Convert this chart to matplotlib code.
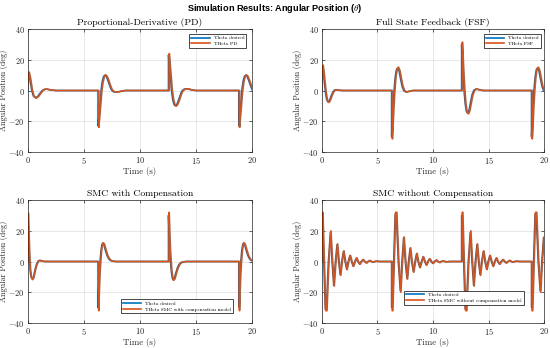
import matplotlib
matplotlib.use('Agg')
import matplotlib.pyplot as plt

plt.rcParams['font.family'] = 'serif'
plt.rcParams['font.serif'] = ['cmr10']
plt.rcParams['mathtext.fontset'] = 'cm'
plt.rcParams['axes.formatter.use_mathtext'] = True
plt.rcParams['axes.unicode_minus'] = True

# event times (s) and sign of the reference jump
event_t = [0.0, 6.28, 12.57, 18.85]
event_sign = [1, -1, 1, -1]

# ---- PD ----
pd_first_dt_des = [0.0, 0.08, 0.2, 0.35, 0.5, 0.7, 0.9, 1.1, 1.3, 1.5, 1.7, 2.0, 2.5]
pd_first_des = [0.0, 11.6, 7.5, 0.5, -3.5, -4.8, -3.8, -1.8, 0.0, 0.8, 0.9, 0.4, 0.0]
pd_first_dt_act = [0.0, 0.14, 0.26, 0.41, 0.56, 0.76, 0.96, 1.16, 1.36, 1.56, 1.76, 2.06, 2.56]
pd_first_act = [0.0, 12.0, 8.0, 0.8, -3.5, -5.0, -4.0, -2.0, -0.1, 0.8, 0.9, 0.4, 0.0]
pd_step_dt_des = [0.0, 0.0, 0.08, 0.18, 0.27, 0.38, 0.5, 0.62, 0.75, 0.9, 1.05, 1.2, 1.4, 1.7, 2.0, 2.4, 6.2]
pd_step_des = [0.0, 23.0, 17.0, 8.0, 0.0, -6.0, -9.2, -10.0, -9.0, -6.2, -3.0, -0.3, 0.9, 1.1, 0.5, 0.0, 0.0]
pd_step_dt_act = [0.0, 0.07, 0.07, 0.15, 0.25, 0.34, 0.45, 0.57, 0.69, 0.82, 0.97, 1.12, 1.27, 1.47, 1.77, 2.07, 2.47, 6.2]
pd_step_act = [0.0, 0.0, 24.0, 17.5, 8.5, 0.5, -5.5, -9.0, -10.2, -9.2, -6.5, -3.2, -0.5, 0.8, 1.1, 0.5, 0.0, 0.0]

# ---- FSF ----
fsf_first_dt_des = [0.0, 0.07, 0.15, 0.25, 0.35, 0.45, 0.57, 0.7, 0.85, 1.0, 1.15, 1.3, 1.5, 1.8]
fsf_first_des = [0.0, 16.0, 12.0, 4.5, -2.0, -6.0, -7.5, -6.5, -3.5, -1.0, 0.3, 0.5, 0.2, 0.0]
fsf_first_dt_act = [0.0, 0.13, 0.21, 0.31, 0.41, 0.51, 0.63, 0.76, 0.91, 1.06, 1.21, 1.36, 1.56, 1.86]
fsf_first_act = [0.0, 16.5, 12.5, 5.0, -1.5, -5.8, -7.8, -6.8, -3.8, -1.2, 0.2, 0.5, 0.2, 0.0]
fsf_step_dt_des = [0.0, 0.0, 0.06, 0.14, 0.22, 0.32, 0.43, 0.55, 0.68, 0.82, 0.95, 1.1, 1.3, 1.5, 1.9, 6.2]
fsf_step_des = [0.0, 30.0, 22.0, 10.0, 0.0, -8.5, -13.5, -14.8, -12.5, -7.0, -2.5, 0.2, 1.0, 0.6, 0.0, 0.0]
fsf_step_dt_act = [0.0, 0.07, 0.07, 0.13, 0.21, 0.29, 0.39, 0.5, 0.62, 0.75, 0.89, 1.02, 1.17, 1.37, 1.57, 1.97, 6.2]
fsf_step_act = [0.0, 0.0, 31.5, 23.0, 11.0, 0.5, -8.5, -13.8, -15.2, -13.0, -7.5, -2.8, 0.0, 1.0, 0.6, 0.0, 0.0]

# ---- SMC with compensation ----
smc_first_dt_des = [0.0, 0.02, 0.08, 0.15, 0.22, 0.3, 0.41, 0.52, 0.65, 0.8, 0.95, 1.1, 1.3, 1.6]
smc_first_des = [0.0, 30.5, 18.0, 3.0, -6.0, -10.0, -11.5, -10.0, -5.5, -1.5, 0.5, 0.7, 0.2, 0.0]
smc_first_dt_act = [0.0, 0.06, 0.12, 0.19, 0.26, 0.34, 0.45, 0.56, 0.69, 0.84, 0.99, 1.14, 1.34, 1.64]
smc_first_act = [0.0, 31.5, 19.0, 4.0, -5.5, -10.0, -11.8, -10.3, -5.8, -1.8, 0.4, 0.7, 0.2, 0.0]
smc_step_dt_des = [0.0, 0.0, 0.06, 0.12, 0.18, 0.26, 0.35, 0.42, 0.52, 0.65, 0.8, 0.95, 1.1, 1.3, 1.6, 6.2]
smc_step_des = [0.0, 30.0, 18.0, 7.0, 0.0, -7.0, -11.0, -12.0, -11.0, -7.5, -4.0, -1.8, -0.7, -0.2, 0.0, 0.0]
smc_step_dt_act = [0.0, 0.06, 0.06, 0.12, 0.18, 0.24, 0.32, 0.41, 0.48, 0.58, 0.71, 0.86, 1.01, 1.16, 1.36, 1.66, 6.2]
smc_step_act = [0.0, 0.0, 32.0, 19.0, 7.5, 0.5, -7.0, -11.2, -12.2, -11.2, -7.8, -4.2, -2.0, -0.8, -0.2, 0.0, 0.0]

# ---- SMC without compensation ----
smcn_step_dt_des = [0.0, 0.0, 0.06, 0.19, 0.32, 0.42, 0.6, 0.78, 0.93, 1.08, 1.23, 1.38,
                    1.52, 1.66, 1.8, 1.95, 2.1, 2.24, 2.38, 2.53, 2.68, 2.82, 2.97, 3.11,
                    3.25, 3.4, 3.55, 3.7, 3.85, 4.0, 4.15, 4.3, 4.45, 4.6, 4.75, 4.9, 5.2, 6.2]
smcn_step_des = [0, 30, 30, 0, -31, -31, 0, 19, 0, -15.5, 0, 11,
                 0, -8.5, 0, 6.5, 0, -5, 0, 3.8, 0, -3, 0, 2.2,
                 0, -1.7, 0, 1.2, 0, -0.9, 0, 0.6, 0, -0.4, 0, 0.2, 0, 0]
smcn_step_dt_act = [0.0, 0.05, 0.05, 0.11, 0.24, 0.37, 0.47, 0.65, 0.83, 0.98, 1.13, 1.28, 1.43,
                    1.57, 1.71, 1.85, 2.0, 2.15, 2.29, 2.43, 2.58, 2.73, 2.87, 3.02, 3.16,
                    3.3, 3.45, 3.6, 3.75, 3.9, 4.05, 4.2, 4.35, 4.5, 4.65, 4.8, 4.95, 5.25, 6.2]
smcn_step_act = [0, 0, 32, 32, 0, -32, -32, 0, 20, 0, -16, 0, 11.5,
                 0, -9, 0, 7, 0, -5.3, 0, 4, 0, -3.2, 0, 2.4,
                 0, -1.8, 0, 1.3, 0, -1, 0, 0.7, 0, -0.4, 0, 0.2, 0, 0]

titles = ['Proportional-Derivative (PD)', 'Full State Feedback (FSF)',
          'SMC with Compensation', 'SMC without Compensation']
labels_act = ['THeta PD', 'THeta FSF', 'THeta SMC with compensation model',
              'THeta SMC without compensation model']

BLUE = '#0072BD'
ORANGE = '#D95319'
DARK = '#262626'


def build(first_dt, first_y, step_dt, step_y):
    t, y = [], []
    for k in range(len(event_t)):
        t0 = event_t[k]
        s = event_sign[k]
        if k == 0:
            dts, ys = first_dt, first_y
        else:
            dts, ys = step_dt, step_y
        t += [t0 + d for d in dts]
        y += [s * v for v in ys]
    return t, y


series = [
    (build(pd_first_dt_des, pd_first_des, pd_step_dt_des, pd_step_des),
     build(pd_first_dt_act, pd_first_act, pd_step_dt_act, pd_step_act)),
    (build(fsf_first_dt_des, fsf_first_des, fsf_step_dt_des, fsf_step_des),
     build(fsf_first_dt_act, fsf_first_act, fsf_step_dt_act, fsf_step_act)),
    (build(smc_first_dt_des, smc_first_des, smc_step_dt_des, smc_step_des),
     build(smc_first_dt_act, smc_first_act, smc_step_dt_act, smc_step_act)),
    (build(smcn_step_dt_des, smcn_step_des, smcn_step_dt_des, smcn_step_des),
     build(smcn_step_dt_act, smcn_step_act, smcn_step_dt_act, smcn_step_act)),
]

# axes rectangles [left, bottom, width, height] in figure fraction
rects = [
    [0.0504, 0.5632, 0.4073, 0.3534],
    [0.5850, 0.5632, 0.4047, 0.3534],
    [0.0504, 0.0718, 0.4073, 0.3534],
    [0.5850, 0.0718, 0.4047, 0.3534],
]
# legend anchors in axes coords
leg_loc = ['upper right', 'upper right', 'lower right', 'lower right']
leg_anchor = [(0.975, 0.96), (0.983, 0.96), (0.917, 0.078), (0.908, 0.148)]

fig = plt.figure(figsize=(5.5, 3.48), dpi=100)

for i in range(4):
    ax = fig.add_axes(rects[i])
    (td, yd), (ta, ya) = series[i]
    ax.plot(td, yd, color=BLUE, lw=1.2, label='Theta desired')
    ax.plot(ta, ya, color=ORANGE, lw=1.2, label=labels_act[i])
    ax.set_xlim(0, 20)
    ax.set_ylim(-40, 40)
    ax.set_xticks([0, 5, 10, 15, 20])
    ax.set_yticks([-40, -20, 0, 20, 40])
    ax.grid(True, color=DARK, alpha=0.15, lw=0.5)
    ax.tick_params(direction='in', length=2, width=0.5, labelsize=6,
                   colors=DARK, top=True, right=True, pad=2)
    for sp in ax.spines.values():
        sp.set_linewidth(0.5)
        sp.set_color(DARK)
    ax.set_title(titles[i], fontsize=7, pad=3)
    ax.set_xlabel('Time (s)', fontsize=6.3, color=DARK, labelpad=1)
    ax.set_ylabel('Angular Position (deg)', fontsize=5.8, color=DARK, labelpad=0.5)
    leg = ax.legend(loc=leg_loc[i], bbox_to_anchor=leg_anchor[i], fontsize=3.7,
                    fancybox=False, framealpha=1, edgecolor='black',
                    handlelength=3.6, borderpad=0.35, labelspacing=0.25,
                    handletextpad=0.8, borderaxespad=0)
    leg.get_frame().set_linewidth(0.5)

fig.suptitle(r'Simulation Results: Angular Position ($\theta$)', fontsize=6.6,
             fontweight='bold', family='Liberation Sans', y=0.995)

fig.savefig('out.png', dpi=100)
